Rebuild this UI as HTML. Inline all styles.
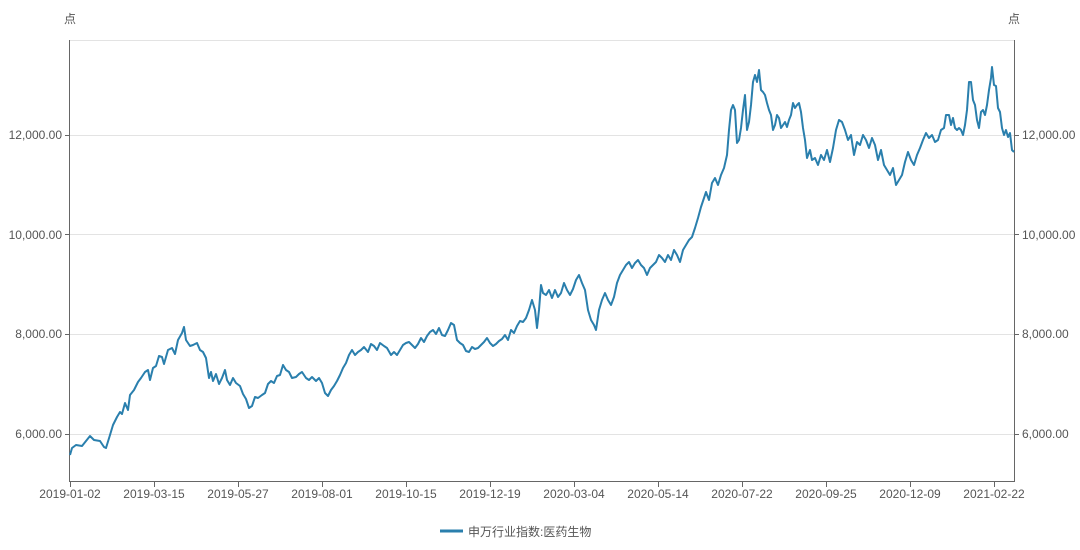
<!DOCTYPE html>
<html><head><meta charset="utf-8"><style>
body{margin:0;background:#fff;width:1080px;height:545px;overflow:hidden}
svg text{font-family:"Liberation Sans","Noto Sans CJK SC",sans-serif;fill:#555;font-size:12px}
</style></head><body>
<svg width="1080" height="545" xmlns="http://www.w3.org/2000/svg">
<g stroke="#e3e3e3" stroke-width="1">
<line x1="70" y1="40.5" x2="1014" y2="40.5"/>
<line x1="70" y1="135.5" x2="1014" y2="135.5"/>
<line x1="70" y1="234.5" x2="1014" y2="234.5"/>
<line x1="70" y1="334.5" x2="1014" y2="334.5"/>
<line x1="70" y1="434.5" x2="1014" y2="434.5"/>
</g>
<g stroke="#666" stroke-width="1">
<line x1="69.5" y1="40" x2="69.5" y2="482"/>
<line x1="1014.5" y1="40" x2="1014.5" y2="482"/>
<line x1="69" y1="481.5" x2="1015" y2="481.5"/>
<line x1="65" y1="135.5" x2="70" y2="135.5"/><line x1="65" y1="234.5" x2="70" y2="234.5"/><line x1="65" y1="334.5" x2="70" y2="334.5"/><line x1="65" y1="434.5" x2="70" y2="434.5"/>
<line x1="1014" y1="135.5" x2="1019" y2="135.5"/><line x1="1014" y1="234.5" x2="1019" y2="234.5"/><line x1="1014" y1="334.5" x2="1019" y2="334.5"/><line x1="1014" y1="434.5" x2="1019" y2="434.5"/>
<line x1="70.5" y1="481" x2="70.5" y2="487"/><line x1="154.5" y1="481" x2="154.5" y2="487"/><line x1="238.5" y1="481" x2="238.5" y2="487"/><line x1="322.5" y1="481" x2="322.5" y2="487"/><line x1="406.5" y1="481" x2="406.5" y2="487"/><line x1="490.5" y1="481" x2="490.5" y2="487"/><line x1="574.5" y1="481" x2="574.5" y2="487"/><line x1="658.5" y1="481" x2="658.5" y2="487"/><line x1="742.5" y1="481" x2="742.5" y2="487"/><line x1="826.5" y1="481" x2="826.5" y2="487"/><line x1="910.5" y1="481" x2="910.5" y2="487"/><line x1="994.5" y1="481" x2="994.5" y2="487"/>
</g>
<text x="64" y="23" font-size="11">点</text>
<text x="1008" y="23" font-size="11">点</text>
<g text-anchor="end">
<text x="62" y="139">12,000.00</text><text x="62" y="239">10,000.00</text><text x="62" y="338">8,000.00</text><text x="62" y="438">6,000.00</text>
</g>
<g>
<text x="1022" y="139">12,000.00</text><text x="1022" y="239">10,000.00</text><text x="1022" y="338">8,000.00</text><text x="1022" y="438">6,000.00</text>
</g>
<g text-anchor="middle">
<text x="70" y="498">2019-01-02</text><text x="154" y="498">2019-03-15</text><text x="238" y="498">2019-05-27</text><text x="322" y="498">2019-08-01</text><text x="406" y="498">2019-10-15</text><text x="490" y="498">2019-12-19</text><text x="574" y="498">2020-03-04</text><text x="658" y="498">2020-05-14</text><text x="742" y="498">2020-07-22</text><text x="826" y="498">2020-09-25</text><text x="910" y="498">2020-12-09</text><text x="994" y="498">2021-02-22</text>
</g>
<polyline fill="none" stroke="#2a7fad" stroke-width="2" stroke-linejoin="round" points="70,455 72,448 76,445 82,446 86,441 90,436 94,440 100,441 104,447 106,448 110,435 113,425 117,417 120,412 122,414 125,403 128,410 130,395 134,390 138,382 141,378 145,372 148,370 150,380 153,368 156,366 159,356 162,357 164,364 168,350 172,348 175,354 178,340 182,333 184,327 186,340 190,346 193,345 197,343 200,350 203,352 206,358 209,378 211,372 213,381 216,374 219,384 222,378 225,370 227,380 230,385 233,378 236,383 240,386 243,394 246,399 249,408 252,406 255,397 258,398 262,395 265,393 268,384 271,381 274,383 277,376 280,375 283,365 286,370 289,372 292,378 296,377 299,374 302,372 306,378 309,380 312,377 316,381 319,378 322,383 325,393 328,396 331,390 334,386 337,381 340,375 343,368 346,363 349,355 352,350 355,355 358,352 361,350 364,347 368,352 371,344 374,346 377,350 380,343 384,346 387,348 391,355 394,352 397,355 400,350 403,345 406,343 409,342 412,345 415,348 418,344 421,338 424,342 427,336 430,332 433,330 436,334 439,328 442,335 445,336 448,330 451,323 454,325 457,340 460,343 463,345 466,351 469,352 472,347 475,349 478,348 481,345 484,342 487,338 490,343 493,346 496,344 499,341 502,339 505,335 508,340 511,330 514,333 517,326 520,321 523,322 526,318 529,310 532,300 535,310 537,328 539,310 541,285 543,293 546,295 549,290 552,298 555,290 558,297 561,293 564,283 567,290 570,295 573,289 576,280 579,275 582,283 585,290 588,310 591,320 594,325 596,330 599,310 602,300 605,293 608,300 611,305 614,297 617,283 620,275 623,270 626,265 629,262 632,268 635,263 638,260 641,265 644,268 647,275 650,268 653,265 656,262 659,255 662,258 665,262 668,255 671,260 674,250 677,255 680,262 683,250 686,245 689,240 692,237 695,228 698,218 701,207 704,198 706,192 709,200 712,183 715,178 718,185 721,175 724,168 727,155 729,130 731,110 733,105 735,110 737,143 739,140 741,128 743,110 745,95 747,130 749,122 751,105 753,82 755,75 757,82 759,70 761,90 763,92 765,95 767,103 769,110 771,115 773,130 775,125 777,115 779,118 781,128 783,125 785,122 787,127 789,120 791,115 793,103 795,108 797,105 799,103 801,112 803,128 805,140 807,158 810,150 812,160 815,158 818,165 821,155 824,160 827,150 830,162 833,148 836,130 839,120 842,122 845,130 848,140 851,135 854,155 857,142 860,145 863,135 866,140 869,148 872,138 875,145 878,160 881,150 884,165 887,170 890,175 893,168 896,185 899,180 902,175 905,162 908,152 911,160 914,165 917,155 920,148 923,140 926,133 929,138 932,135 935,142 938,140 941,130 944,128 946,115 949,115 951,125 953,118 955,128 957,130 959,128 961,130 963,135 965,125 967,110 969,82 971,82 973,100 975,105 977,120 979,128 981,112 983,110 985,115 987,105 989,90 991,78 992,67 994,85 996,86 998,108 1000,112 1002,128 1004,135 1006,130 1008,137 1010,133 1012,150 1014,152"/>
<line x1="440" y1="531" x2="463" y2="531" stroke="#2a7fad" stroke-width="3"/>
<text x="468" y="536" font-size="13">申万行业指数:医药生物</text>
</svg>
</body></html>
